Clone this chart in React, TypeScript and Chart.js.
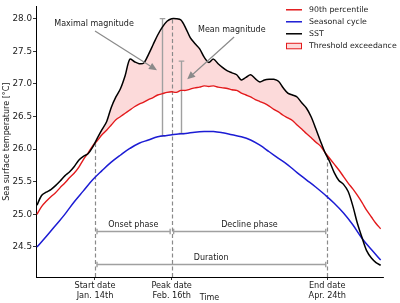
import React, { useEffect, useRef } from 'react';
import { Chart, registerables } from 'chart.js';

Chart.register(...registerables);

// ---- data (day of year relative to Jan 1 = 0) ----
const DAYS = [-12, -10, -8, -6, -4, -2, 0, 2, 4, 6, 8, 10, 12, 14, 16, 18, 20, 22, 24, 26, 28, 30, 32, 34, 36, 38, 40, 42, 44, 46, 48, 50, 52, 54, 56, 58, 60, 62, 64, 66, 68, 70, 72, 74, 76, 78, 80, 82, 84, 86, 88, 90, 92, 94, 96, 98, 100, 102, 104, 106, 108, 110, 112, 114, 116, 118, 120, 122, 124, 126, 128, 130, 132, 134, 136];

const P90 = [25.00, 25.12, 25.20, 25.27, 25.33, 25.41, 25.48, 25.56, 25.63, 25.72, 25.84, 25.94, 26.05, 26.13, 26.22, 26.29, 26.37, 26.45, 26.50, 26.55, 26.60, 26.65, 26.69, 26.72, 26.76, 26.79, 26.83, 26.85, 26.87, 26.88, 26.87, 26.90, 26.90, 26.92, 26.94, 26.95, 26.97, 26.96, 26.97, 26.95, 26.94, 26.93, 26.91, 26.90, 26.86, 26.83, 26.80, 26.76, 26.73, 26.70, 26.66, 26.61, 26.57, 26.52, 26.48, 26.44, 26.37, 26.31, 26.24, 26.18, 26.11, 26.05, 25.95, 25.86, 25.77, 25.68, 25.58, 25.48, 25.39, 25.29, 25.18, 25.06, 24.96, 24.86, 24.78];

const SST = [25.14, 25.29, 25.34, 25.38, 25.44, 25.51, 25.59, 25.65, 25.73, 25.83, 25.89, 25.93, 26.03, 26.17, 26.30, 26.42, 26.64, 26.80, 26.93, 27.13, 27.38, 27.34, 27.31, 27.32, 27.45, 27.60, 27.75, 27.87, 27.96, 28.00, 28.00, 27.98, 27.86, 27.71, 27.62, 27.54, 27.41, 27.33, 27.38, 27.31, 27.25, 27.20, 27.17, 27.14, 27.06, 27.10, 27.14, 27.08, 27.03, 27.06, 27.07, 27.07, 27.04, 26.94, 26.86, 26.83, 26.80, 26.71, 26.63, 26.50, 26.32, 26.13, 25.95, 25.81, 25.64, 25.52, 25.46, 25.35, 25.13, 24.86, 24.64, 24.44, 24.33, 24.26, 24.22];

const CLIM_DAYS = [-12, -8, -4, 0, 4, 8, 12, 16, 20, 24, 28, 32, 36, 40, 44, 48, 52, 56, 60, 64, 68, 72, 76, 80, 84, 88, 92, 96, 100, 104, 108, 112, 116, 120, 124, 128, 132, 136];
const CLIM = [24.50, 24.66, 24.83, 25.00, 25.19, 25.36, 25.53, 25.67, 25.80, 25.91, 26.01, 26.09, 26.14, 26.19, 26.21, 26.23, 26.24, 26.26, 26.27, 26.27, 26.25, 26.22, 26.19, 26.14, 26.06, 25.96, 25.86, 25.76, 25.64, 25.53, 25.42, 25.30, 25.17, 25.02, 24.84, 24.63, 24.46, 24.30];

const EVENT_START = 13; // Jan. 14th
const PEAK_DAY = 46; // Feb. 16th
const EVENT_END = 113; // Apr. 24th

const X_TICKS = [EVENT_START, PEAK_DAY, EVENT_END];
const X_TICK_LABELS = [
  ['Start date', 'Jan. 14th'],
  ['Peak date', 'Feb. 16th'],
  ['End date', 'Apr. 24th'],
];
const Y_TICKS = [24.5, 25.0, 25.5, 26.0, 26.5, 27.0, 27.5, 28.0];

const LEGEND_LABELS = ['90th percentile', 'Seasonal cycle', 'SST', 'Threshold exceedance'];

const DATE_MARKERS = [
  { day: EVENT_START, top: 26.10 },
  { day: PEAK_DAY, top: 28.0 },
  { day: EVENT_END, top: 25.90 },
];
const MAGNITUDES = [
  { day: 41.7, low: 26.20, high: 28.0 },
  { day: 50.1, low: 26.24, high: 27.35 },
];
const PHASES = [
  { label: 'Onset phase', from: EVENT_START, to: PEAK_DAY, level: 24.74 },
  { label: 'Decline phase', from: PEAK_DAY, to: EVENT_END, level: 24.74 },
  { label: 'Duration', from: EVENT_START, to: EVENT_END, level: 24.24 },
];
const ARROWS = [
  { label: 'Maximal magnitude', tx: 12.6, ty: 27.92, x1: 13.0, y1: 27.81, x2: 39.7, y2: 27.21 },
  { label: 'Mean magnitude', tx: 71.9, ty: 27.82, x1: 72.9, y1: 27.72, x2: 52.7, y2: 27.07 },
];

// ---- styles ----
const RED = '#e31a1c';
const BLUE = '#1c1cd4';
const PINK = 'rgba(251, 212, 212, 0.85)';
const GREY = '#8a8a8a';
const LIGHT_GREY = '#a0a0a0';
const TEXT = '#1a1a1a';
const FONT = '"DejaVu Sans", sans-serif';

const pts = (xs: number[], ys: number[]) => xs.map((x, i) => ({ x, y: ys[i] }));

function drawArrow(ctx: CanvasRenderingContext2D, x1: number, y1: number, x2: number, y2: number) {
  const ang = Math.atan2(y2 - y1, x2 - x1);
  const hl = 8;
  const hw = 3.6;
  const bx = x2 - hl * Math.cos(ang);
  const by = y2 - hl * Math.sin(ang);
  ctx.beginPath();
  ctx.moveTo(x1, y1);
  ctx.lineTo(bx, by);
  ctx.stroke();
  ctx.beginPath();
  ctx.moveTo(x2, y2);
  ctx.lineTo(bx + hw * Math.sin(ang), by - hw * Math.cos(ang));
  ctx.lineTo(bx - hw * Math.sin(ang), by + hw * Math.cos(ang));
  ctx.closePath();
  ctx.fill();
}

const annotations = {
  id: 'annotations',
  beforeDatasetsDraw(chart: any) {
    const { ctx, chartArea } = chart;
    const xs = chart.scales.x;
    const ys = chart.scales.y;
    const px = (v: number) => xs.getPixelForValue(v);
    const py = (v: number) => ys.getPixelForValue(v);
    ctx.save();
    // dashed date markers
    ctx.strokeStyle = GREY;
    ctx.lineWidth = 1.2;
    ctx.setLineDash([4, 2.5]);
    for (const m of DATE_MARKERS) {
      const x = Math.round(px(m.day)) + 0.5;
      ctx.beginPath();
      ctx.moveTo(x, chartArea.bottom);
      ctx.lineTo(x, py(m.top));
      ctx.stroke();
    }
    ctx.setLineDash([]);
    // magnitude bars
    ctx.strokeStyle = LIGHT_GREY;
    ctx.lineWidth = 1.4;
    for (const m of MAGNITUDES) {
      const x = Math.round(px(m.day)) + 0.5;
      const yt = py(m.high);
      const yb = py(m.low);
      ctx.beginPath();
      ctx.moveTo(x, yt);
      ctx.lineTo(x, yb);
      ctx.moveTo(x - 2.8, yt);
      ctx.lineTo(x + 2.8, yt);
      ctx.moveTo(x - 2.8, yb);
      ctx.lineTo(x + 2.8, yb);
      ctx.stroke();
    }
    // phase bars
    for (const p of PHASES) {
      const xa = px(p.from) + 2;
      const xb = px(p.to) - 1.5;
      const y = Math.round(py(p.level)) + 0.5;
      ctx.beginPath();
      ctx.moveTo(xa, y);
      ctx.lineTo(xb, y);
      ctx.moveTo(xa, y - 2.8);
      ctx.lineTo(xa, y + 2.8);
      ctx.moveTo(xb, y - 2.8);
      ctx.lineTo(xb, y + 2.8);
      ctx.stroke();
    }
    ctx.restore();
  },
  afterDatasetsDraw(chart: any) {
    const { ctx, chartArea } = chart;
    const xs = chart.scales.x;
    const ys = chart.scales.y;
    const px = (v: number) => xs.getPixelForValue(v);
    const py = (v: number) => ys.getPixelForValue(v);
    ctx.save();
    // arrows
    ctx.strokeStyle = GREY;
    ctx.fillStyle = GREY;
    ctx.lineWidth = 1.2;
    for (const a of ARROWS) {
      drawArrow(ctx, px(a.x1), py(a.y1), px(a.x2), py(a.y2));
    }
    // texts
    ctx.fillStyle = TEXT;
    ctx.font = `8px ${FONT}`;
    ctx.textAlign = 'center';
    ctx.textBaseline = 'middle';
    for (const a of ARROWS) ctx.fillText(a.label, px(a.tx), py(a.ty));
    for (const p of PHASES) ctx.fillText(p.label, (px(p.from) + px(p.to)) / 2, py(p.level) - 6.5);
    // axis titles
    ctx.fillText('Time', (chartArea.left + chartArea.right) / 2, 298);
    ctx.save();
    ctx.translate(6.5, (chartArea.top + chartArea.bottom) / 2);
    ctx.rotate(-Math.PI / 2);
    ctx.fillText('Sea surface temperature [°C]', 0, 0);
    ctx.restore();
    // legend
    const colors = [RED, BLUE, '#000'];
    const lx0 = chartArea.right - 97;
    const lx1 = lx0 + 16;
    const tx = lx1 + 7;
    ctx.font = `7.8px ${FONT}`;
    ctx.textAlign = 'left';
    LEGEND_LABELS.forEach((label, i) => {
      const y = chartArea.top + 3.5 + i * 12;
      if (i < 3) {
        ctx.strokeStyle = colors[i];
        ctx.lineWidth = 1.5;
        ctx.beginPath();
        ctx.moveTo(lx0, y);
        ctx.lineTo(lx1, y);
        ctx.stroke();
      } else {
        ctx.fillStyle = PINK;
        ctx.fillRect(lx0, y - 2.5, 16, 5.5);
        ctx.strokeStyle = RED;
        ctx.lineWidth = 1;
        ctx.strokeRect(lx0 + 0.5, y - 2.5, 15, 5.5);
      }
      ctx.fillStyle = TEXT;
      ctx.fillText(label, tx, y);
    });
    ctx.restore();
  },
};

export default function App() {
  const ref = useRef<HTMLCanvasElement>(null);
  useEffect(() => {
    document.body.style.margin = '0';
    const evIdx = DAYS.map((d, i) => i).filter((i) => DAYS[i] >= EVENT_START - 1 && DAYS[i] <= EVENT_END + 1);
    const evDays = evIdx.map((i) => DAYS[i]);
    const evSst = evIdx.map((i) => SST[i]);
    const evP90 = evIdx.map((i) => P90[i]);
    const chart = new Chart(ref.current as HTMLCanvasElement, {
      type: 'line',
      data: {
        datasets: [
          { label: 'SST', data: pts(DAYS, SST), borderColor: '#000', borderWidth: 1.5, pointRadius: 0, tension: 0.3, fill: false, order: 0 },
          { label: '90th percentile', data: pts(DAYS, P90), borderColor: RED, borderWidth: 1.4, pointRadius: 0, tension: 0.3, fill: false, order: 1 },
          { label: 'Seasonal cycle', data: pts(CLIM_DAYS, CLIM), borderColor: BLUE, borderWidth: 1.5, pointRadius: 0, tension: 0.4, fill: false, order: 2 },
          {
            label: 'Threshold exceedance',
            data: pts(evDays, evSst),
            borderWidth: 0,
            borderColor: 'rgba(0,0,0,0)',
            pointRadius: 0,
            tension: 0.3,
            fill: { target: 4, above: PINK, below: 'rgba(0,0,0,0)' },
            order: 3,
          },
          { label: 'base', data: pts(evDays, evP90), borderWidth: 0, borderColor: 'rgba(0,0,0,0)', pointRadius: 0, tension: 0.3, fill: false, order: 4 },
        ],
      } as any,
      options: {
        responsive: false,
        animation: false,
        events: [],
        layout: { padding: { top: 2, right: 17, bottom: 0, left: 0 } },
        plugins: {
          legend: { display: false },
          tooltip: { enabled: false },
          filler: { drawTime: 'beforeDatasetsDraw' },
        } as any,
        scales: {
          x: {
            type: 'linear',
            min: -12.4,
            max: 137,
            afterFit: (s: any) => { s.height = 26; },
            afterBuildTicks: (s: any) => { s.ticks = X_TICKS.map((v) => ({ value: v })); },
            ticks: {
              autoSkip: false,
              maxRotation: 0,
              padding: 1.5,
              color: TEXT,
              font: { family: FONT, size: 8.2, lineHeight: 1.16 },
              callback: (v: any) => {
                const i = X_TICKS.indexOf(Number(v));
                return i >= 0 ? X_TICK_LABELS[i] : '';
              },
            },
            grid: { drawOnChartArea: false, drawTicks: true, tickLength: 3, color: '#000', lineWidth: 0.8 },
            border: { display: true, color: '#000', width: 1 },
          },
          y: {
            type: 'linear',
            min: 24.04,
            max: 28.19,
            afterFit: (s: any) => { s.width = 36; },
            afterBuildTicks: (s: any) => { s.ticks = Y_TICKS.map((v) => ({ value: v })); },
            ticks: {
              padding: 1,
              color: TEXT,
              font: { family: FONT, size: 8.8 },
              callback: (v: any) => Number(v).toFixed(1),
            },
            grid: { drawOnChartArea: false, drawTicks: true, tickLength: 3, color: '#000', lineWidth: 0.8 },
            border: { display: true, color: '#000', width: 1 },
          },
        },
      } as any,
      plugins: [annotations],
    });
    return () => chart.destroy();
  }, []);
  return (
    <div style={{ width: 400, height: 303 }}>
      <canvas ref={ref} width={400} height={303} style={{ display: 'block' }} />
    </div>
  );
}
